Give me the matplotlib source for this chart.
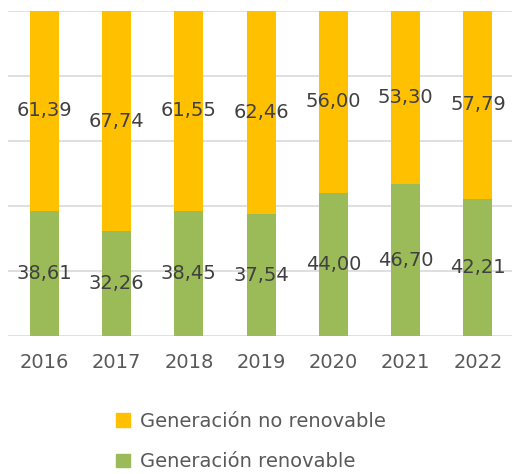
import matplotlib.pyplot as plt
from matplotlib.patches import Patch

years = ["2016", "2017", "2018", "2019", "2020", "2021", "2022"]
renovable = [38.61, 32.26, 38.45, 37.54, 44.00, 46.70, 42.21]
no_renovable = [61.39, 67.74, 61.55, 62.46, 56.00, 53.30, 57.79]

GREEN = "#9BBB59"
ORANGE = "#FFC000"
TEXT = "#404040"

plt.rcParams["font.family"] = ["DejaVu Sans"]

fig = plt.figure(figsize=(5.12, 4.74), dpi=100)
ax = fig.add_axes([0.016, 0.291, 0.988, 0.686])

x = range(len(years))
ax.bar(x, renovable, width=0.4, color=GREEN, zorder=2)
ax.bar(x, no_renovable, width=0.4, bottom=renovable, color=ORANGE, zorder=2)

fmt = lambda v: f"{v:.2f}".replace(".", ",")
for i in x:
    ax.text(i, renovable[i] / 2, fmt(renovable[i]), ha="center", va="center",
            fontsize=14, color=TEXT, zorder=3)
    ax.text(i, renovable[i] + no_renovable[i] / 2, fmt(no_renovable[i]),
            ha="center", va="center", fontsize=14, color=TEXT, zorder=3)

ax.set_ylim(0, 100)
ax.set_xlim(-0.5, len(years) - 0.5)
ax.set_yticks([0, 20, 40, 60, 80, 100])
ax.set_yticklabels([])
ax.tick_params(axis="y", length=0)
ax.tick_params(axis="x", length=0, labelsize=14, labelcolor="#595959", pad=12)
ax.set_xticks(list(x))
ax.set_xticklabels(years)
ax.grid(axis="y", color="#D9D9D9", linewidth=1.2, zorder=0)
for s in ax.spines.values():
    s.set_visible(False)

handles = [Patch(color=ORANGE), Patch(color=GREEN)]
fig.legend(handles, ["Generación no renovable", "Generación renovable"],
           loc="center", bbox_to_anchor=(0.49, 0.068), frameon=False,
           fontsize=14, labelcolor="#595959", handlelength=0.7, handleheight=0.7,
           handletextpad=0.5, labelspacing=1.1)

fig.savefig("out.png", dpi=100)
